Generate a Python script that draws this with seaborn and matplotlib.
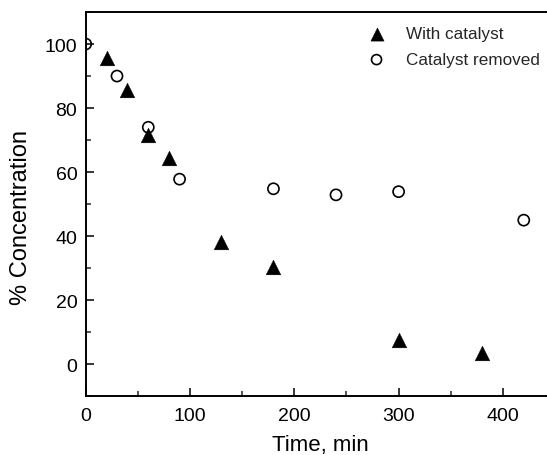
import matplotlib
matplotlib.use("Agg")
import matplotlib.pyplot as plt
import seaborn as sns
import pandas as pd
from matplotlib.ticker import MultipleLocator

# Data
with_time = [20, 40, 60, 80, 130, 180, 300, 380]
with_conc = [95.5, 85.5, 71.5, 64.3, 38.3, 30.3, 7.7, 3.4]
removed_time = [0, 30, 60, 90, 180, 240, 300, 420]
removed_conc = [100, 90, 74, 57.8, 54.8, 52.9, 53.9, 45]
series_labels = ["With catalyst", "Catalyst removed"]
x_ticks = [0, 100, 200, 300, 400]
y_ticks = [0, 20, 40, 60, 80, 100]

sns.set_theme(style="ticks")
plt.rcParams['font.family'] = ['Liberation Sans', 'DejaVu Sans']

fig = plt.figure(figsize=(5.47, 4.56), dpi=100)
W, H = 547, 456
left_px, right_px, top_px, bottom_px = 85.7, 85.7 + 450 * 1.043, 13, 397.3
ax = fig.add_axes([left_px / W, 1 - bottom_px / H, (right_px - left_px) / W, (bottom_px - top_px) / H])

df_with = pd.DataFrame({"t": with_time, "c": with_conc})
df_rem = pd.DataFrame({"t": removed_time, "c": removed_conc})

sns.scatterplot(data=df_with, x="t", y="c", ax=ax, marker="^", s=112,
                color="black", edgecolor="black", linewidth=0.3, label=series_labels[0])
sns.scatterplot(data=df_rem, x="t", y="c", ax=ax, marker="o", s=64,
                facecolor="none", edgecolor="black", linewidth=1.2, label=series_labels[1])

ax.set_xlim(0, 450)
ax.set_ylim(-10, 110)
ax.set_xticks(x_ticks)
ax.set_yticks(y_ticks)
ax.xaxis.set_minor_locator(MultipleLocator(50))
ax.yaxis.set_minor_locator(MultipleLocator(10))
ax.tick_params(which="major", direction="in", length=5.8, width=1.1, labelsize=14,
               colors="black", top=False, right=False)
ax.tick_params(axis="x", which="major", pad=8)
ax.tick_params(axis="y", which="major", pad=6)
ax.tick_params(which="minor", direction="in", length=3.3, width=1.1, top=False, right=False)
for sp in ax.spines.values():
    sp.set_linewidth(1.4)
    sp.set_color("black")

ax.set_xlabel("Time, min", fontsize=16, color="black")
ax.set_ylabel("% Concentration", fontsize=17, color="black")
ax.xaxis.set_label_coords(((273 + 368) / 2 - left_px) / (right_px - left_px),
                          -(446 - bottom_px) / (bottom_px - top_px))
ax.xaxis.label.set_va("center")
ax.yaxis.set_label_coords(-(left_px - 21) / (right_px - left_px),
                          (bottom_px - 217.5) / (bottom_px - top_px))
ax.yaxis.label.set_va("center")

leg = ax.legend(loc="upper left", bbox_to_anchor=(368 / W, 1 - 27.5 / H),
                bbox_transform=fig.transFigure, frameon=False, fontsize=12.3,
                handletextpad=1.2, labelspacing=0.62, markerscale=0.9,
                handlelength=1.0, borderpad=0, borderaxespad=0)

fig.savefig("out.png", dpi=100)
